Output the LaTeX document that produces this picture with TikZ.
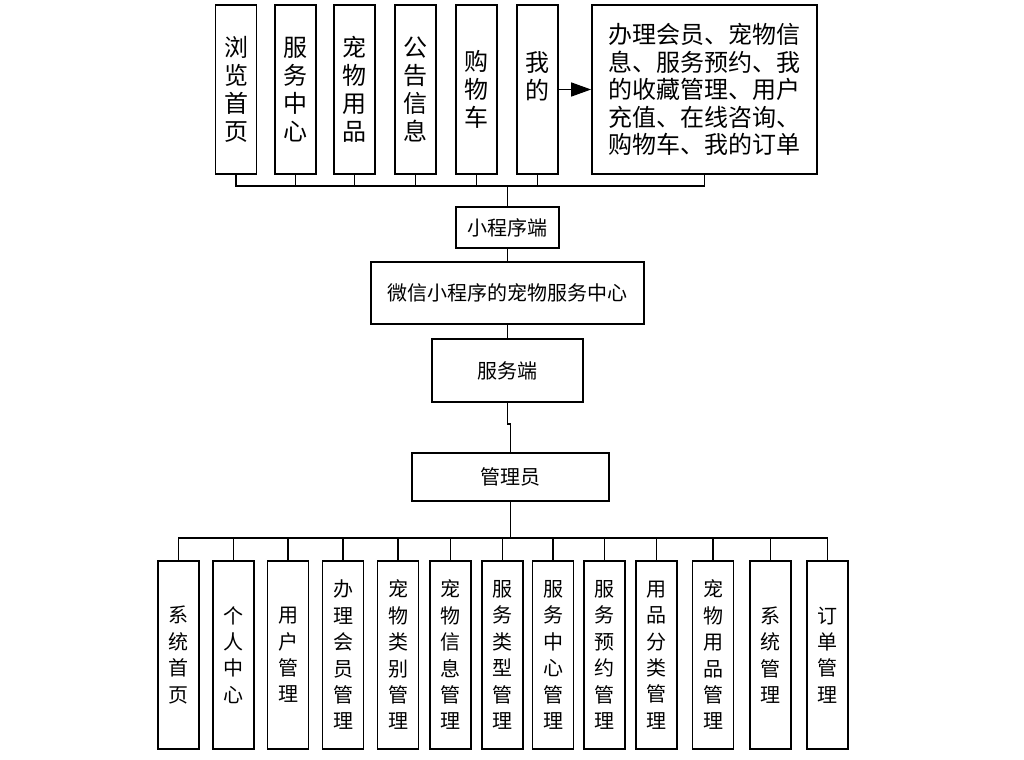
\documentclass[tikz,border=0pt]{standalone}
\usepackage{fontspec}
\setmainfont{Noto Sans CJK SC}
\usetikzlibrary{arrows.meta, positioning}

\begin{document}
\begin{tikzpicture}[
    x=0.5pt, y=0.5pt,
    topbox/.style={draw, line width=0.9pt, minimum width=20.5pt, minimum height=84.5pt, inner sep=0pt, align=center, font=\fontsize{12}{14}\selectfont},
    botbox/.style={draw, line width=0.9pt, minimum width=20.5pt, minimum height=94pt, inner sep=0pt, align=center, font=\fontsize{10}{13.2}\selectfont},
    midbox/.style={draw, line width=0.9pt, inner sep=0pt, font=\fontsize{10}{12}\selectfont},
    link/.style={line width=0.8pt},
    arrow/.style={-{Triangle[length=10pt, width=7pt]}, line width=0.8pt}
]
\useasboundingbox (0,0) rectangle (1024,-760);

% Mini program functions (top)
\node[topbox] (liulan) at (236, -89.5) {浏\\览\\首\\页};
\node[topbox] (fuwu) at (295.5, -89.5) {服\\务\\中\\心};
\node[topbox] (yongpin) at (354.5, -89.5) {宠\\物\\用\\品};
\node[topbox] (gonggao) at (415.5, -89.5) {公\\告\\信\\息};
\node[topbox] (gouwu) at (476.5, -89.5) {购\\物\\车};
\node[topbox] (wode) at (537.5, -89.5) {我\\的\\\mbox{}};
\node[topbox, minimum width=112.5pt, align=left, font=\fontsize{12}{13.75}\selectfont] (wodeitems) at (704.5, -89.5)
    {办理会员、宠物信\\息、服务预约、我\\的收藏管理、用户\\充值、在线咨询、\\购物车、我的订单};

% Center column
\node[midbox, minimum width=51.5pt, minimum height=20.5pt] (xcx) at (507.5, -227.5) {小程序端};
\node[midbox, minimum width=136.5pt, minimum height=31pt] (system) at (507.5, -293) {微信小程序的宠物服务中心};
\node[midbox, minimum width=75.5pt, minimum height=31.5pt] (fwd) at (507.5, -370.5) {服务端};
\node[midbox, minimum width=98.5pt, minimum height=24pt] (admin) at (510.5, -477) {管理员};

% Admin functions (bottom)
\node[botbox] (xtsy) at (178.5, -655) {系\\统\\首\\页};
\node[botbox] (grzx) at (233.5, -655) {个\\人\\中\\心};
\node[botbox] (yhgl) at (288, -655) {用\\户\\管\\理};
\node[botbox] (hygl) at (343, -655) {办\\理\\会\\员\\管\\理};
\node[botbox] (lbgl) at (398, -655) {宠\\物\\类\\别\\管\\理};
\node[botbox] (xxgl) at (450.5, -655) {宠\\物\\信\\息\\管\\理};
\node[botbox] (lxgl) at (502.5, -655) {服\\务\\类\\型\\管\\理};
\node[botbox] (zxgl) at (553, -655) {服\\务\\中\\心\\管\\理};
\node[botbox] (yygl) at (604.5, -655) {服\\务\\预\\约\\管\\理};
\node[botbox] (flgl) at (656.5, -655) {用\\品\\分\\类\\管\\理};
\node[botbox] (ypgl) at (713, -655) {宠\\物\\用\\品\\管\\理};
\node[botbox] (xtgl) at (770.5, -655) {系\\统\\管\\理};
\node[botbox] (ddgl) at (827.5, -655) {订\\单\\管\\理};

% Connectors
\coordinate (topbus) at (507.5, -186);
\coordinate (botbus) at (510.5, -538);
\draw[arrow] (wode.east) -- (wodeitems.west);
\draw[link] (liulan.south) |- (topbus);
\draw[link] (fuwu.south) |- (topbus);
\draw[link] (yongpin.south) |- (topbus);
\draw[link] (gonggao.south) |- (topbus);
\draw[link] (gouwu.south) |- (topbus);
\draw[link] (wode.south) |- (topbus);
\draw[link] (wodeitems.south) |- (topbus);
\draw[link] (topbus) -- (xcx.north);
\draw[link] (xcx.south) -- (system.north);
\draw[link] (system.south) -- (fwd.north);
\draw[link] (fwd.south) -- ++(0,-21) -| (admin.north);
\draw[link] (admin.south) -- (botbus);
\draw[link] (botbus) -| (xtsy.north);
\draw[link] (botbus) -| (grzx.north);
\draw[link] (botbus) -| (yhgl.north);
\draw[link] (botbus) -| (hygl.north);
\draw[link] (botbus) -| (lbgl.north);
\draw[link] (botbus) -| (xxgl.north);
\draw[link] (botbus) -| (lxgl.north);
\draw[link] (botbus) -| (zxgl.north);
\draw[link] (botbus) -| (yygl.north);
\draw[link] (botbus) -| (flgl.north);
\draw[link] (botbus) -| (ypgl.north);
\draw[link] (botbus) -| (xtgl.north);
\draw[link] (botbus) -| (ddgl.north);

\end{tikzpicture}
\end{document}
